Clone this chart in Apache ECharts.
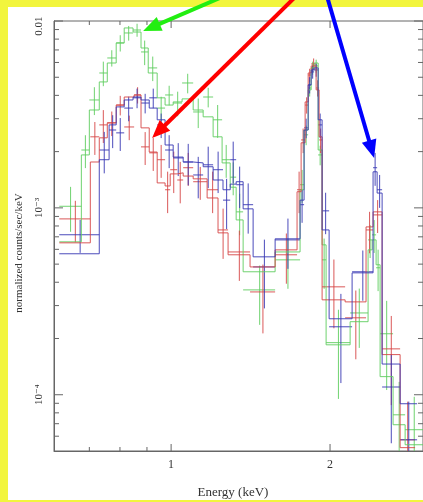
<!DOCTYPE html>
<html>
<head>
<meta charset="utf-8">
<script src="https://cdn.jsdelivr.net/npm/echarts@6/dist/echarts.min.js"></script>
<style>
html,body{margin:0;padding:0;background:#f2f53d;}
#wrap{position:relative;width:423px;height:502px;background:#f2f53d;overflow:hidden;}
#paper{position:absolute;left:8px;top:7px;width:415px;height:493px;background:#ffffff;}
#c{position:absolute;left:0;top:0;width:423px;height:502px;}
</style>
</head>
<body>
<div id="wrap"><div id="paper"></div><div id="c"></div></div>
<script>
// ---- axis ranges and ticks ----
const X_MIN = 0.6, X_MAX = 3.0, Y_MIN = 5e-5, Y_MAX = 0.01;
const xTickMajor = [1, 2];
const xTickLabels = ['1', '2'];
const xTickMinor = [0.7, 0.8, 0.9];
const yTickMajor = [1e-4, 1e-3, 1e-2];
const yTickLabels = ['10\u207B\u2074', '10\u207B\u00B3', '0.01'];
const yTickMinor = [6e-5, 7e-5, 8e-5, 9e-5,
  2e-4, 3e-4, 4e-4, 5e-4, 6e-4, 7e-4, 8e-4, 9e-4,
  2e-3, 3e-3, 4e-3, 5e-3, 6e-3, 7e-3, 8e-3, 9e-3];

// ---- green spectrum: bin edges (keV), model, data, relative error ----
const greenEdges = [0.614, 0.676, 0.700, 0.731, 0.757, 0.787, 0.815, 0.847, 0.877, 0.905,
  0.941, 0.974, 1.009, 1.049, 1.101, 1.150, 1.201, 1.249, 1.294, 1.328,
  1.369, 1.574, 1.755, 1.786, 1.818, 1.842, 1.866, 1.899, 1.932, 1.966,
  2.183, 2.361, 2.403, 2.445, 2.488, 2.633, 2.775, 3.0];
const greenModel = [0.000658, 0.00192, 0.00334, 0.00472, 0.00596, 0.00763, 0.00918, 0.00873, 0.00717, 0.00527,
  0.00388, 0.00355, 0.00369, 0.00383, 0.00334, 0.00307, 0.00240, 0.00174, 0.00129, 0.000862,
  0.000455, 0.000581, 0.00125, 0.00261, 0.00428, 0.00561, 0.00596, 0.00204, 0.000634, 0.000185,
  0.000246, 0.000596, 0.000674, 0.000496, 0.000125, 0.0000691, 0.000054];
const greenData = [0.00102, 0.00204, 0.00378, 0.00527, 0.00634, 0.00763, 0.00863, 0.00895, 0.00683, 0.00561,
  0.00342, 0.00402, 0.00364, 0.00466, 0.00326, 0.00392, 0.00296, 0.00181, 0.00146, 0.000952,
  0.000364, 0.000527, 0.00133, 0.00246, 0.00438, 0.00561, 0.00575, 0.00192, 0.000527, 0.000190,
  0.000274, 0.000674, 0.000717, 0.000478, 0.000212, 0.0000781, 0.000065];
const greenErr = [0.27, 0.2, 0.17, 0.15, 0.1, 0.1, 0.09, 0.08, 0.15, 0.15,
  0.15, 0.12, 0.15, 0.12, 0.18, 0.12, 0.2, 0.2, 0.2, 0.25,
  0.35, 0.3, 0.2, 0.12, 0.1, 0.08, 0.08, 0.12, 0.3, 0.5,
  0.35, 0.2, 0.2, 0.25, 0.5, 0.5, 0.5];

// ---- red spectrum ----
const redEdges = [0.614, 0.703, 0.731, 0.757, 0.787, 0.815, 0.851, 0.877, 0.909, 0.941,
  0.974, 0.996, 1.027, 1.054, 1.101, 1.170, 1.227, 1.282, 1.411, 1.574,
  1.732, 1.763, 1.794, 1.818, 1.842, 1.882, 1.907, 1.932, 2.136, 2.340,
  2.413, 2.510, 2.715, 2.898];
const redModel = [0.000650, 0.00176, 0.00237, 0.00285, 0.00355, 0.00392, 0.00402, 0.00268, 0.00199, 0.00136,
  0.00131, 0.00152, 0.00154, 0.00148, 0.00143, 0.00113, 0.000735, 0.000561, 0.000483, 0.000596,
  0.00122, 0.00223, 0.00369, 0.00527, 0.00575, 0.00428, 0.00240, 0.000322, 0.000314, 0.000791,
  0.000952, 0.000164, 0.0000521];
const redData = [0.000873, 0.00240, 0.00278, 0.00285, 0.00355, 0.00271, 0.00402, 0.00212, 0.00197, 0.00181,
  0.00125, 0.00160, 0.00141, 0.00164, 0.00138, 0.00125, 0.000762, 0.000581, 0.000355, 0.000561,
  0.00125, 0.00231, 0.00355, 0.00514, 0.00589, 0.00438, 0.00231, 0.000378, 0.000258, 0.000762,
  0.000917, 0.000176, 0.0000574];
const redErr = [0.25, 0.2, 0.2, 0.15, 0.12, 0.15, 0.1, 0.2, 0.2, 0.2,
  0.25, 0.25, 0.25, 0.2, 0.2, 0.25, 0.3, 0.3, 0.4, 0.3,
  0.25, 0.15, 0.1, 0.08, 0.07, 0.1, 0.15, 0.4, 0.4, 0.25,
  0.2, 0.5, 0.6];

// ---- blue spectrum ----
const blueEdges = [0.614, 0.731, 0.763, 0.787, 0.815, 0.847, 0.877, 0.909, 0.941, 0.974,
  1.009, 1.054, 1.101, 1.150, 1.201, 1.254, 1.294, 1.328, 1.369, 1.430,
  1.574, 1.755, 1.786, 1.818, 1.842, 1.866, 1.899, 1.932, 1.992, 2.202,
  2.413, 2.456, 2.510, 2.715, 2.924];
const blueModel = [0.000568, 0.00181, 0.00278, 0.00347, 0.00378, 0.00392, 0.00378, 0.00342, 0.00296, 0.00217,
  0.00187, 0.00176, 0.00174, 0.00166, 0.00141, 0.00125, 0.00134, 0.00138, 0.000988, 0.000547,
  0.000683, 0.00110, 0.00261, 0.00455, 0.00547, 0.00561, 0.00296, 0.000762, 0.000255, 0.000449,
  0.00156, 0.00120, 0.000146, 0.0000895];
const blueData = [0.000718, 0.00204, 0.00261, 0.00252, 0.00342, 0.00388, 0.00364, 0.00388, 0.00278, 0.00204,
  0.00185, 0.00176, 0.00150, 0.00170, 0.00160, 0.00110, 0.00181, 0.00133, 0.00104, 0.000483,
  0.000674, 0.00104, 0.00268, 0.00455, 0.00534, 0.00547, 0.00278, 0.000964, 0.000231, 0.000455,
  0.00164, 0.00125, 0.000110, 0.0000574];
const blueErr = [0.2, 0.25, 0.2, 0.2, 0.15, 0.12, 0.12, 0.12, 0.15, 0.2,
  0.2, 0.25, 0.25, 0.25, 0.25, 0.3, 0.25, 0.25, 0.3, 0.4,
  0.3, 0.2, 0.12, 0.1, 0.08, 0.08, 0.15, 0.25, 0.5, 0.3,
  0.2, 0.2, 0.5, 0.6];

// ---- annotation arrows (energy, counts) : tail -> head ----
const arrowTail = [[1.211, 0.01295], [1.695, 0.01295], [1.983, 0.01295]];
const arrowHead = [[0.885, 0.00884], [0.9205, 0.002367], [2.424, 0.001851]];

// ---- styling ----
const AXIS_COLOR = '#666666';
const TEXT_COLOR = '#333333';
const SERIF = '"Liberation Serif", "DejaVu Serif", serif';
const GREEN = 'rgba(95,205,95,0.9)';
const RED = 'rgba(214,70,70,0.9)';
const BLUE = 'rgba(55,55,180,0.9)';
const ARROW_COLORS = ['#22ee11', '#ff0000', '#0000ff'];

function modelSeries(edges, model, color) {
  const pts = edges.map((e, i) => [e, model[Math.min(i, model.length - 1)]]);
  return {
    type: 'line', step: 'end', data: pts, symbol: 'none', showSymbol: false,
    lineStyle: { color: color, width: 1 }, itemStyle: { color: color },
    clip: true, silent: true, z: 3
  };
}

function crossSeries(edges, data, err, color) {
  const rows = data.map((v, i) => [edges[i], edges[i + 1], v, err[i]]);
  return {
    type: 'custom', data: rows, encode: { x: [0, 1], y: 2 }, clip: true, silent: true, z: 3,
    renderItem: function (params, api) {
      const lo = api.value(0), hi = api.value(1), v = api.value(2), f = api.value(3);
      const mid = (lo + hi) / 2;
      const a = api.coord([lo, v]), b = api.coord([hi, v]);
      const t = api.coord([mid, v * (1 + f)]), d = api.coord([mid, v * (1 - f)]);
      return {
        type: 'group', children: [
          { type: 'line', shape: { x1: a[0], y1: a[1], x2: b[0], y2: b[1] }, style: { stroke: color, lineWidth: 1 } },
          { type: 'line', shape: { x1: t[0], y1: t[1], x2: d[0], y2: d[1] }, style: { stroke: color, lineWidth: 1 } }
        ]
      };
    }
  };
}

function xTickSeries(values, len) {
  return {
    type: 'custom', data: values.map(v => [v, Y_MIN]), clip: false, silent: true, z: 6,
    renderItem: function (params, api) {
      const v = api.value(0);
      const b = api.coord([v, Y_MIN]), t = api.coord([v, Y_MAX]);
      return {
        type: 'group', children: [
          { type: 'line', shape: { x1: b[0], y1: b[1], x2: b[0], y2: b[1] - len }, style: { stroke: AXIS_COLOR, lineWidth: 1 } },
          { type: 'line', shape: { x1: t[0], y1: t[1], x2: t[0], y2: t[1] + len }, style: { stroke: AXIS_COLOR, lineWidth: 1 } }
        ]
      };
    }
  };
}

function yTickSeries(values, len) {
  return {
    type: 'custom', data: values.map(v => [X_MIN, v]), clip: false, silent: true, z: 6,
    renderItem: function (params, api) {
      const v = api.value(1);
      const l = api.coord([X_MIN, v]), r = api.coord([X_MAX, v]);
      return {
        type: 'group', children: [
          { type: 'line', shape: { x1: l[0], y1: l[1], x2: l[0] + len, y2: l[1] }, style: { stroke: AXIS_COLOR, lineWidth: 1 } },
          { type: 'line', shape: { x1: r[0], y1: r[1], x2: r[0] - len, y2: r[1] }, style: { stroke: AXIS_COLOR, lineWidth: 1 } }
        ]
      };
    }
  };
}

const xLabelSeries = {
  type: 'custom', data: xTickMajor.map(v => [v, Y_MIN]), clip: false, silent: true, z: 6,
  renderItem: function (params, api) {
    const p = api.coord([api.value(0), Y_MIN]);
    return {
      type: 'text', x: p[0], y: p[1] + 14,
      style: { text: xTickLabels[params.dataIndex], fill: TEXT_COLOR, font: '12px ' + SERIF,
        align: 'center', verticalAlign: 'middle', textAlign: 'center', textVerticalAlign: 'middle' }
    };
  }
};

const yLabelSeries = {
  type: 'custom', data: yTickMajor.map(v => [X_MIN, v]), clip: false, silent: true, z: 6,
  renderItem: function (params, api) {
    const p = api.coord([X_MIN, api.value(1)]);
    const top = api.coord([X_MIN, Y_MAX])[1];
    return {
      type: 'text', x: p[0] - 15, y: Math.max(p[1], top + 5), rotation: Math.PI / 2,
      style: { text: yTickLabels[params.dataIndex], fill: TEXT_COLOR, font: '11px ' + SERIF,
        align: 'center', verticalAlign: 'middle', textAlign: 'center', textVerticalAlign: 'middle' }
    };
  }
};

const arrowSeries = {
  type: 'custom', clip: false, silent: true, z: 20,
  data: arrowTail.map((s, i) => [s[0], s[1], arrowHead[i][0], arrowHead[i][1]]),
  encode: { x: [0, 2], y: [1, 3] },
  renderItem: function (params, api) {
    const p0 = api.coord([api.value(0), api.value(1)]);
    const p1 = api.coord([api.value(2), api.value(3)]);
    const color = ARROW_COLORS[params.dataIndex];
    const dx = p1[0] - p0[0], dy = p1[1] - p0[1];
    const L = Math.hypot(dx, dy), ux = dx / L, uy = dy / L;
    const HL = 18, HW = 7.5;
    const bx = p1[0] - ux * HL, by = p1[1] - uy * HL;
    return {
      type: 'group', children: [
        { type: 'line', shape: { x1: p0[0] - ux * 6, y1: p0[1] - uy * 6, x2: bx + ux * 2, y2: by + uy * 2 },
          style: { stroke: color, lineWidth: 4 } },
        { type: 'polygon', shape: { points: [[p1[0], p1[1]], [bx - uy * HW, by + ux * HW], [bx + uy * HW, by - ux * HW]] },
          style: { fill: color } }
      ]
    };
  }
};

const chart = echarts.init(document.getElementById('c'), null, { renderer: 'canvas' });
chart.setOption({
  animation: false,
  backgroundColor: 'transparent',
  grid: { left: 54, top: 21, right: 0, bottom: 51, show: true, borderColor: AXIS_COLOR, borderWidth: 1, backgroundColor: 'transparent' },
  xAxis: {
    type: 'log', logBase: 10, min: X_MIN, max: X_MAX,
    axisLine: { show: true, lineStyle: { color: AXIS_COLOR, width: 1 } },
    axisTick: { show: false }, axisLabel: { show: false }, splitLine: { show: false }
  },
  yAxis: {
    type: 'log', logBase: 10, min: Y_MIN, max: Y_MAX,
    axisLine: { show: true, lineStyle: { color: AXIS_COLOR, width: 1 } },
    axisTick: { show: false }, axisLabel: { show: false }, splitLine: { show: false }
  },
  graphic: [
    { type: 'text', x: 19, y: 253, rotation: Math.PI / 2, z: 10,
      style: { text: 'normalized counts/sec/keV', fill: TEXT_COLOR, font: '11px ' + SERIF,
        align: 'center', verticalAlign: 'middle', textAlign: 'center', textVerticalAlign: 'middle' } },
    { type: 'text', x: 233, y: 493, z: 10,
      style: { text: 'Energy (keV)', fill: TEXT_COLOR, font: '13px ' + SERIF,
        align: 'center', verticalAlign: 'middle', textAlign: 'center', textVerticalAlign: 'middle' } }
  ],
  series: [
    modelSeries(greenEdges, greenModel, GREEN),
    crossSeries(greenEdges, greenData, greenErr, GREEN),
    modelSeries(redEdges, redModel, RED),
    crossSeries(redEdges, redData, redErr, RED),
    modelSeries(blueEdges, blueModel, BLUE),
    crossSeries(blueEdges, blueData, blueErr, BLUE),
    xTickSeries(xTickMajor, 7),
    xTickSeries(xTickMinor, 4),
    yTickSeries(yTickMajor, 9),
    yTickSeries(yTickMinor, 5),
    xLabelSeries,
    yLabelSeries,
    arrowSeries
  ]
});
</script>
</body>
</html>
